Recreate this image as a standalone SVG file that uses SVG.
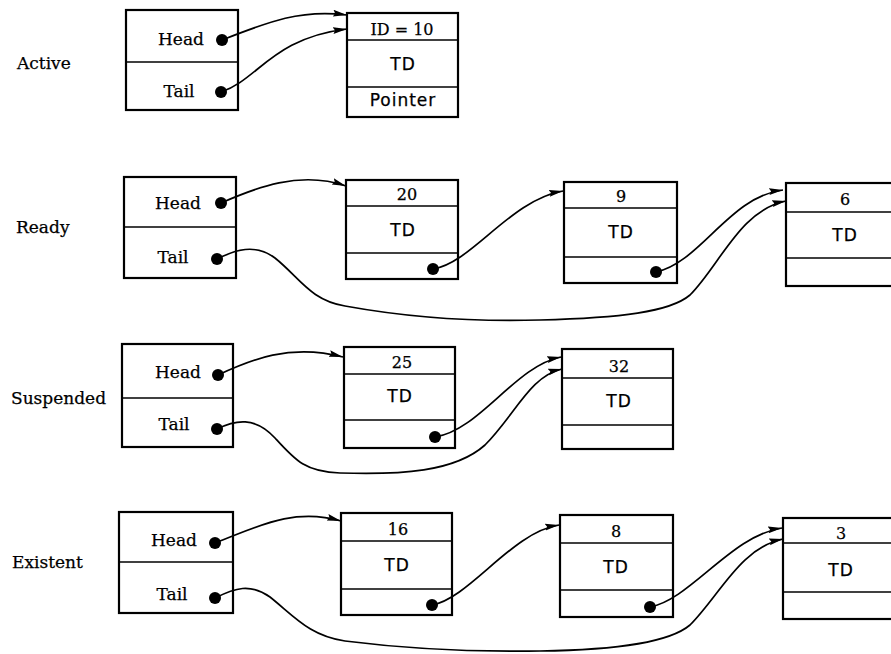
<svg xmlns="http://www.w3.org/2000/svg" width="891" height="654" viewBox="0 0 891 654">
  <defs>
    <marker id="arrow" markerUnits="userSpaceOnUse" markerWidth="15" markerHeight="10" refX="14" refY="5" orient="auto">
      <path d="M0,1.6 L14,5 L0,8.4 L2,5 Z" fill="#000"/>
    </marker>
    <style>
      rect.box { fill: #fff; stroke: #000; stroke-width: 2.2; }
      line.div { stroke: #000; stroke-width: 1.6; }
      circle.dot { fill: #000; }
      text { fill: #000; stroke: #000; stroke-width: 0.25; }
      .lbl { font-family: "DejaVu Serif", "Liberation Serif", serif; font-size: 17px; }
      .ht { font-family: "DejaVu Serif", "Liberation Serif", serif; font-size: 17px; text-anchor: middle; }
      .num { font-family: "DejaVu Serif", "Liberation Serif", serif; font-size: 16px; text-anchor: middle; }
      .td { font-family: "DejaVu Sans", "Liberation Sans", sans-serif; font-size: 17px; letter-spacing: 1px; text-anchor: middle; }
      #connectors path { fill: none; stroke: #000; stroke-width: 1.7; marker-end: url(#arrow); }
    </style>
  </defs>
  <rect width="891" height="654" fill="#fff"/>

  <!-- row labels -->
  <text class="lbl" x="17" y="69">Active</text>
  <text class="lbl" x="16" y="233">Ready</text>
  <text class="lbl" x="11" y="404">Suspended</text>
  <text class="lbl" x="12" y="568">Existent</text>

  <!-- Active list -->
  <g id="active-list">
    <rect class="box" x="126" y="10" width="112" height="100"/>
    <line class="div" x1="126" y1="62" x2="238" y2="62"/>
    <text class="ht" x="181" y="45">Head</text>
    <text class="ht" x="179" y="97">Tail</text>
    <circle class="dot" cx="222" cy="40" r="6"/>
    <circle class="dot" cx="221" cy="92" r="6"/>
  </g>
  <g id="active-td10">
    <rect class="box" x="347" y="13" width="111" height="104"/>
    <line class="div" x1="347" y1="40" x2="458" y2="40"/>
    <line class="div" x1="347" y1="87" x2="458" y2="87"/>
    <text class="num" x="402" y="35">ID = 10</text>
    <text class="td" x="403" y="70">TD</text>
    <text class="td" x="403" y="106">Pointer</text>
  </g>

  <!-- Ready list -->
  <g id="ready-list">
    <rect class="box" x="124" y="177" width="112" height="101"/>
    <line class="div" x1="124" y1="227" x2="236" y2="227"/>
    <text class="ht" x="178" y="209">Head</text>
    <text class="ht" x="173" y="263">Tail</text>
    <circle class="dot" cx="221" cy="203" r="6"/>
    <circle class="dot" cx="217" cy="259" r="6"/>
  </g>
  <g id="ready-td20">
    <rect class="box" x="346" y="180" width="112" height="99"/>
    <line class="div" x1="346" y1="206" x2="458" y2="206"/>
    <line class="div" x1="346" y1="253" x2="458" y2="253"/>
    <text class="num" x="407" y="200">20</text>
    <text class="td" x="403" y="236">TD</text>
    <circle class="dot" cx="433" cy="269" r="6"/>
  </g>
  <g id="ready-td9">
    <rect class="box" x="564" y="182" width="113" height="101"/>
    <line class="div" x1="564" y1="208" x2="677" y2="208"/>
    <line class="div" x1="564" y1="257" x2="677" y2="257"/>
    <text class="num" x="621" y="202">9</text>
    <text class="td" x="621" y="238">TD</text>
    <circle class="dot" cx="656" cy="272" r="6"/>
  </g>
  <g id="ready-td6">
    <rect class="box" x="786" y="183" width="112" height="103"/>
    <line class="div" x1="786" y1="212" x2="898" y2="212"/>
    <line class="div" x1="786" y1="258" x2="898" y2="258"/>
    <text class="num" x="845" y="205">6</text>
    <text class="td" x="845" y="241">TD</text>
  </g>

  <!-- Suspended list -->
  <g id="suspended-list">
    <rect class="box" x="122" y="344" width="111" height="103"/>
    <line class="div" x1="122" y1="398" x2="233" y2="398"/>
    <text class="ht" x="178" y="378">Head</text>
    <text class="ht" x="174" y="430">Tail</text>
    <circle class="dot" cx="218" cy="375" r="6"/>
    <circle class="dot" cx="217" cy="429" r="6"/>
  </g>
  <g id="suspended-td25">
    <rect class="box" x="344" y="347" width="111" height="101"/>
    <line class="div" x1="344" y1="374" x2="455" y2="374"/>
    <line class="div" x1="344" y1="420" x2="455" y2="420"/>
    <text class="num" x="402" y="368">25</text>
    <text class="td" x="400" y="402">TD</text>
    <circle class="dot" cx="435" cy="437" r="6"/>
  </g>
  <g id="suspended-td32">
    <rect class="box" x="562" y="349" width="111" height="100"/>
    <line class="div" x1="562" y1="378" x2="673" y2="378"/>
    <line class="div" x1="562" y1="425" x2="673" y2="425"/>
    <text class="num" x="619" y="372">32</text>
    <text class="td" x="619" y="407">TD</text>
  </g>

  <!-- Existent list -->
  <g id="existent-list">
    <rect class="box" x="119" y="512" width="114" height="101"/>
    <line class="div" x1="119" y1="562" x2="233" y2="562"/>
    <text class="ht" x="174" y="546">Head</text>
    <text class="ht" x="172" y="600">Tail</text>
    <circle class="dot" cx="215" cy="543" r="6"/>
    <circle class="dot" cx="215" cy="598" r="6"/>
  </g>
  <g id="existent-td16">
    <rect class="box" x="341" y="513" width="111" height="102"/>
    <line class="div" x1="341" y1="541" x2="452" y2="541"/>
    <line class="div" x1="341" y1="589" x2="452" y2="589"/>
    <text class="num" x="398" y="535">16</text>
    <text class="td" x="397" y="571">TD</text>
    <circle class="dot" cx="432" cy="605" r="6"/>
  </g>
  <g id="existent-td8">
    <rect class="box" x="560" y="515" width="113" height="102"/>
    <line class="div" x1="560" y1="543" x2="673" y2="543"/>
    <line class="div" x1="560" y1="590" x2="673" y2="590"/>
    <text class="num" x="616" y="537">8</text>
    <text class="td" x="616" y="573">TD</text>
    <circle class="dot" cx="650" cy="607" r="6"/>
  </g>
  <g id="existent-td3">
    <rect class="box" x="783" y="518" width="112" height="101"/>
    <line class="div" x1="783" y1="543" x2="895" y2="543"/>
    <line class="div" x1="783" y1="592" x2="895" y2="592"/>
    <text class="num" x="841" y="539">3</text>
    <text class="td" x="841" y="576">TD</text>
  </g>

  <!-- pointer links -->
  <g id="connectors">
    <path d="M222,40 C268,22 300,9 347,15"/>
    <path d="M221,92 C258,80 272,38 347,29"/>

    <path d="M221,203 C255,188 300,170 346,186"/>
    <path d="M433,269 C472,263 510,200 563,191"/>
    <path d="M656,272 C700,263 730,196 783,190"/>
    <path d="M217,259 C235,250 255,243 275,258 C300,278 310,300 345,306 C400,316 470,322 540,320 C620,318 670,312 690,295 C720,265 740,210 786,201"/>

    <path d="M218,375 C250,360 290,343 343,357"/>
    <path d="M435,437 C480,430 515,366 561,357"/>
    <path d="M217,429 C235,420 255,416 275,438 C295,460 305,472 340,473 C400,475 455,472 485,445 C515,415 530,376 562,369"/>

    <path d="M215,543 C255,528 292,507 341,521"/>
    <path d="M432,605 C470,598 512,532 559,525"/>
    <path d="M650,607 C690,600 732,535 782,528"/>
    <path d="M215,598 C235,588 250,583 270,597 C295,617 310,636 345,641 C400,648 470,652 540,651 C620,650 670,642 690,625 C720,595 740,548 783,539"/>
  </g>
</svg>
